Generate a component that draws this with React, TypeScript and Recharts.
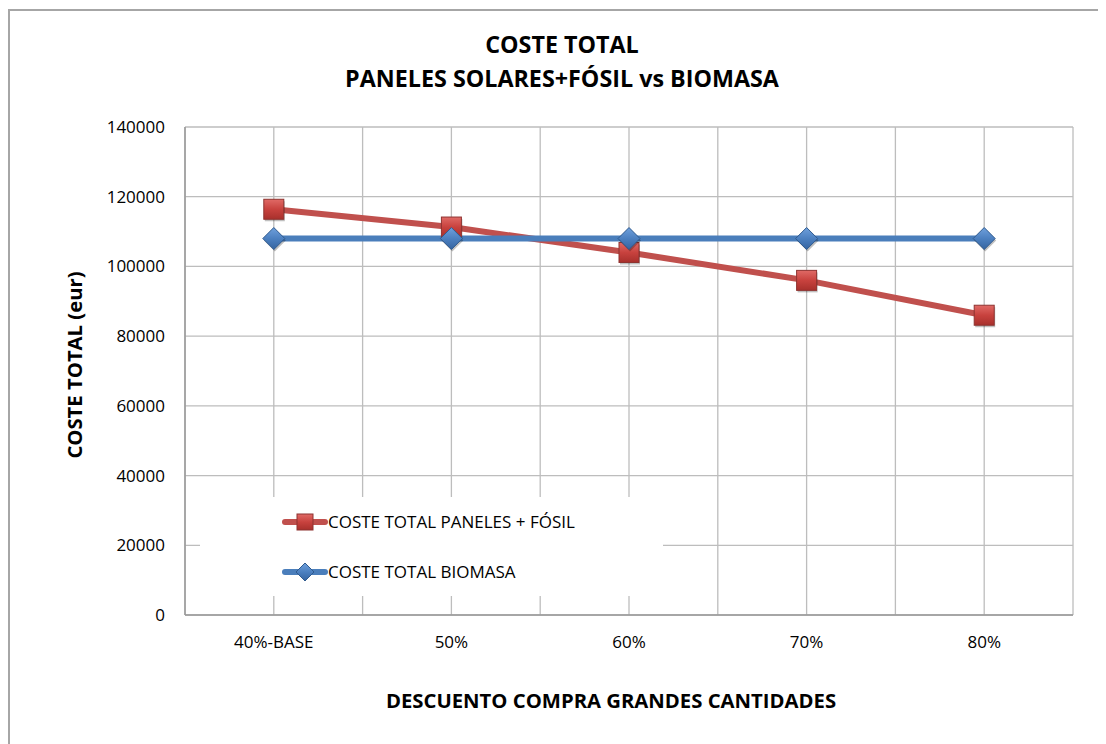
import React from 'react';
import { LineChart, Line, XAxis, YAxis, CartesianGrid } from 'recharts';

const categories = ['40%-BASE', '50%', '60%', '70%', '80%'];
const panelesFosil = [116400, 111300, 104000, 96000, 86000];
const biomasa = [108000, 108000, 108000, 108000, 108000];
const yTicks = [0, 20000, 40000, 60000, 80000, 100000, 120000, 140000];
const seriesNames = ['COSTE TOTAL PANELES + FÓSIL', 'COSTE TOTAL BIOMASA'];

const RED = '#C0504D';
const BLUE = '#4A7EBB';
const FONT = '"Open Sans", sans-serif';

const data = categories.map((c, i) => ({
  x: 2 * i + 1,
  name: c,
  fosil: panelesFosil[i],
  biomasa: biomasa[i],
}));

const xTicks = Array.from({ length: 11 }, (_, i) => i);

const Square = (props: any) => {
  const { cx, cy } = props;
  if (cx == null || cy == null) return null;
  const s = 10;
  return (
    <g>
      <rect x={cx - s + 1} y={cy - s + 2} width={2 * s} height={2 * s} fill="rgba(0,0,0,0.25)" />
      <rect x={cx - s} y={cy - s} width={2 * s} height={2 * s} fill="url(#redGrad)" stroke="#8E3330" strokeWidth={1} />
    </g>
  );
};

const Diamond = (props: any) => {
  const { cx, cy } = props;
  if (cx == null || cy == null) return null;
  const s = 11;
  return (
    <g>
      <path d={`M${cx + 1},${cy - s + 2} L${cx + s + 1},${cy + 2} L${cx + 1},${cy + s + 2} L${cx - s + 1},${cy + 2} Z`} fill="rgba(0,0,0,0.25)" />
      <path d={`M${cx},${cy - s} L${cx + s},${cy} L${cx},${cy + s} L${cx - s},${cy} Z`} fill="url(#blueGrad)" stroke="#2F5A8E" strokeWidth={1} />
    </g>
  );
};

const LegendIcon = ({ color, kind }: { color: string; kind: 'sq' | 'di' }) => (
  <svg width={46} height={22} style={{ display: 'block' }}>
    <defs>
      <linearGradient id={`lg-${kind}`} x1="0" y1="0" x2="0" y2="1">
        <stop offset="0%" stopColor={kind === 'sq' ? '#E06A66' : '#6FA0DC'} />
        <stop offset="50%" stopColor={kind === 'sq' ? '#C8423E' : '#4C80C0'} />
        <stop offset="100%" stopColor={kind === 'sq' ? '#A8302C' : '#3564A0'} />
      </linearGradient>
    </defs>
    <line x1={3} y1={11} x2={43} y2={11} stroke={color} strokeWidth={6} strokeLinecap="round" />
    {kind === 'sq' ? (
      <rect x={15} y={3} width={16} height={16} fill={`url(#lg-${kind})`} stroke="#8E3330" />
    ) : (
      <path d="M23,2 L32,11 L23,20 L14,11 Z" fill={`url(#lg-${kind})`} stroke="#2F5A8E" />
    )}
  </svg>
);

const LegendBox = () => (
  <div style={{ position: 'absolute', left: 192, top: 489, width: 463, height: 99, background: '#fff', fontFamily: FONT, fontSize: 17, color: '#000' }}>
    {[0, 1].map((i) => (
      <div key={i} style={{ position: 'absolute', left: 82, top: i === 0 ? 14 : 64, display: 'flex', alignItems: 'center', height: 22 }}>
        <LegendIcon color={i === 0 ? RED : BLUE} kind={i === 0 ? 'sq' : 'di'} />
        <span style={{ whiteSpace: 'nowrap', lineHeight: '22px' }}>{seriesNames[i]}</span>
      </div>
    ))}
  </div>
);

export default function App() {
  return (
    <div style={{ position: 'relative', width: 1098, height: 736, overflow: 'hidden', background: '#fff' }}>
      <div style={{ position: 'absolute', left: 0, top: 1, width: 1200, height: 900, border: '2px solid #A6A6A6', boxSizing: 'border-box' }} />
      <div style={{ position: 'absolute', left: 0, top: 0 }}>
        <LineChart width={1098} height={736} data={data} margin={{ top: 119, right: 33, bottom: 99, left: 0 }}>
          <defs>
            <linearGradient id="redGrad" x1="0" y1="0" x2="0" y2="1">
              <stop offset="0%" stopColor="#E06A66" />
              <stop offset="50%" stopColor="#C8423E" />
              <stop offset="100%" stopColor="#A8302C" />
            </linearGradient>
            <linearGradient id="blueGrad" x1="0" y1="0" x2="0" y2="1">
              <stop offset="0%" stopColor="#6FA0DC" />
              <stop offset="50%" stopColor="#4C80C0" />
              <stop offset="100%" stopColor="#3564A0" />
            </linearGradient>
          </defs>
          <CartesianGrid stroke="#BDBDBD" strokeWidth={1.3} />
          <XAxis
            type="number"
            dataKey="x"
            domain={[0, 10]}
            ticks={xTicks}
            interval={0}
            height={30}
            tickFormatter={(v: number) => (v % 2 === 1 ? categories[(v - 1) / 2] : '')}
            axisLine={{ stroke: '#999', strokeWidth: 1.5 }}
            tickLine={false}
            tickMargin={15}
            tick={{ fill: '#000', fontSize: 17, fontFamily: FONT }}
          />
          <YAxis
            domain={[0, 140000]}
            ticks={yTicks}
            interval={0}
            width={177}
            axisLine={{ stroke: '#999', strokeWidth: 1.5 }}
            tickLine={false}
            tickMargin={14}
            tick={{ fill: '#000', fontSize: 17, fontFamily: FONT }}
          />
          <Line
            type="linear"
            dataKey="fosil"
            name={seriesNames[0]}
            stroke={RED}
            strokeWidth={6}
            dot={<Square />}
            activeDot={false}
            isAnimationActive={false}
          />
          <Line
            type="linear"
            dataKey="biomasa"
            name={seriesNames[1]}
            stroke={BLUE}
            strokeWidth={6}
            dot={<Diamond />}
            activeDot={false}
            isAnimationActive={false}
          />
        </LineChart>
      </div>
      <LegendBox />
      <div style={{ position: 'absolute', left: 0, width: 1108, top: 19, textAlign: 'center', fontFamily: FONT, fontWeight: 700, fontSize: 23.3, lineHeight: '34px', color: '#000' }}>
        <div>COSTE TOTAL</div>
        <div>PANELES SOLARES+FÓSIL vs BIOMASA</div>
      </div>
      <div style={{ position: 'absolute', left: 66, top: 357, width: 0, height: 0 }}>
        <div style={{ position: 'absolute', transform: 'translate(-50%, -50%) rotate(-90deg)', whiteSpace: 'nowrap', fontFamily: FONT, fontWeight: 700, fontSize: 20.3, color: '#000' }}>
          COSTE TOTAL (eur)
        </div>
      </div>
      <div style={{ position: 'absolute', left: 603, top: 692, width: 0, height: 0 }}>
        <div style={{ position: 'absolute', transform: 'translate(-50%, -50%)', whiteSpace: 'nowrap', fontFamily: FONT, fontWeight: 700, fontSize: 20.3, color: '#000' }}>
          DESCUENTO COMPRA GRANDES CANTIDADES
        </div>
      </div>
    </div>
  );
}
